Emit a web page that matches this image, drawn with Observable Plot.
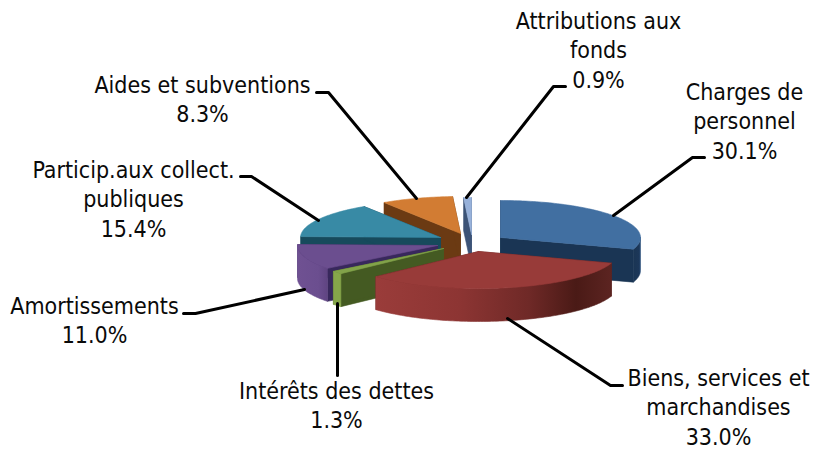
<!DOCTYPE html>
<html>
<head>
<meta charset="utf-8">
<style>html,body{margin:0;padding:0;background:#fff}svg{display:block}</style>
<script src="https://cdn.jsdelivr.net/npm/d3@7"></script>
<script src="https://cdn.jsdelivr.net/npm/@observablehq/plot@0.6"></script>
</head>
<body>
<div id="chart"></div>
<script>
// Data, in clockwise order from 12 o'clock
const names = ["Charges de\npersonnel","Biens, services et\nmarchandises","Intérêts des dettes","Amortissements","Particip.aux collect.\npubliques","Aides et subventions","Attributions aux\nfonds"];
const shares = [30.1,33.0,1.3,11.0,15.4,8.3,0.9];

// Styling / layout
const topFill  = ["#416fa1","#983b39","#82a34a","#6b4e8f","#388aa5","#d27c33","#97b1da"];
const edgeFill = ["#1a3554","#5a2220","#445a22","#38285c","#174a5c","#6b3a13","#3c5377"];
const rimFill  = ["url(#rimBlue)","url(#rimRed)","#86a64a","url(#rimPurple)","#174a5c","#6b3a13","#3c5377"];
const apexX = [500,478,443,437,440,460,471];
const apexY = [237,251,248,245,237,233,234];
const drawOrder = [6,5,4,0,3,2,1];
const rx = 140, ry = 37, depth = 33;
const labelX = [744,718,336,94,133,202,598];
const labelY = [99,385,398,313,177,92,28];
const leaders = [
  [[704,157],[692,157],[613,215]],
  [[622,385],[610,385],[507,318]],
  [[337,375],[337,303]],
  [[183,313],[195,313],[304,289]],
  [[240,176],[251,176],[318,220]],
  [[316,92],[328,92],[416,198]],
  [[565,86],[553,86],[466,197]]
];
const fontFamily = "'DejaVu Sans Condensed','DejaVu Sans',sans-serif";
const fontSize = 23, lineStep = 29.5;

const arcs = d3.pie().sort(null).startAngle(0).endAngle(2*Math.PI)(shares);
const onRim = (i, a, dy = 0) => ({x: apexX[i] + rx*Math.sin(a), y: apexY[i] - ry*Math.cos(a) + dy});
const sweep = (i, a0, a1, dy = 0) => {
  const n = Math.max(2, Math.ceil((a1-a0)/0.02));
  return d3.range(n+1).map(k => onRim(i, a0+(a1-a0)*k/n, dy));
};
const poly = (pts, fill) => Plot.line(pts.concat([pts[0]]), {x:"x", y:"y", fill, stroke:fill, strokeWidth:0.6});

const sliceMarks = drawOrder.flatMap(i => {
  const {startAngle:a0, endAngle:a1} = arcs[i];
  const apex = {x:apexX[i], y:apexY[i]};
  const apexLow = {x:apexX[i], y:apexY[i]+depth};
  const out = [];
  for (const a of [a0,a1]) {
    out.push(poly([apex, onRim(i,a), onRim(i,a,depth), apexLow], edgeFill[i]));
  }
  const f0 = Math.max(a0, Math.PI/2), f1 = Math.min(a1, 3*Math.PI/2);
  if (f1 > f0) {
    out.push(poly(sweep(i,f0,f1).concat(sweep(i,f0,f1,depth).reverse()), rimFill[i]));
  }
  out.push(poly([apex].concat(sweep(i,a0,a1)), topFill[i]));
  return out;
});

const leaderMarks = leaders.map(l =>
  Plot.line(l.map(([x,y]) => ({x,y})), {x:"x", y:"y", stroke:"#000", strokeWidth:3, strokeLinejoin:"round"}));

const labelRows = names.flatMap((n,i) => {
  const lines = n.split("\n").concat(d3.format(".1f")(shares[i]) + "%");
  return lines.map((text,k) => ({text, x:labelX[i], y:labelY[i]+k*lineStep}));
});

const defs = () => {
  const g = document.createElementNS("http://www.w3.org/2000/svg","g");
  g.innerHTML = `<defs>
    <linearGradient id="rimRed"><stop offset="0" stop-color="#9a3c3a"/><stop offset=".35" stop-color="#8d3533"/><stop offset=".65" stop-color="#6f2927"/><stop offset=".85" stop-color="#4a1a16"/><stop offset="1" stop-color="#5c2421"/></linearGradient>
    <linearGradient id="rimBlue"><stop offset="0" stop-color="#1a3554"/><stop offset=".8" stop-color="#1c3759"/><stop offset="1" stop-color="#2c4f7a"/></linearGradient>
    <linearGradient id="rimPurple"><stop offset="0" stop-color="#6f5192"/><stop offset=".7" stop-color="#6b4e8f"/><stop offset="1" stop-color="#5f4482"/></linearGradient>
  </defs>`;
  return g;
};

const chart = Plot.plot({
  width:814, height:450, margin:0,
  x:{domain:[0,814], range:[0,814], axis:null},
  y:{domain:[0,450], range:[0,450], axis:null},
  style:{background:"#fff", fontFamily},
  marks:[
    defs,
    ...sliceMarks,
    ...leaderMarks,
    Plot.text(labelRows, {x:"x", y:"y", text:"text", fontSize, fill:"#0a0a0a", lineAnchor:"bottom", textAnchor:"middle"})
  ]
});
document.getElementById("chart").append(chart);
</script>
</body>
</html>
